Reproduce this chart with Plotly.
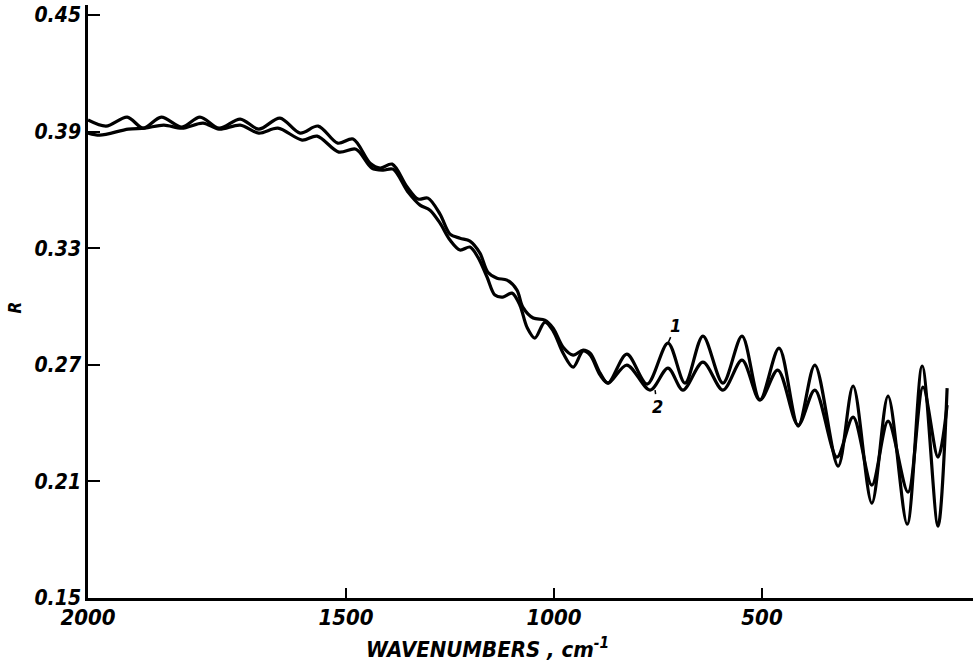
import plotly.graph_objects as go

# ---- data ----
wn_1 = [2000, 1965, 1924, 1893, 1858, 1818, 1783, 1746, 1705, 1669,
        1628, 1589, 1554, 1516, 1483, 1442, 1418, 1389, 1353, 1327,
        1303, 1274, 1250, 1226, 1202, 1178, 1159, 1137, 1113, 1089,
        1075, 1050, 1022, 1002, 978, 954, 930, 913, 889, 870,
        825, 776, 726, 685, 642, 594, 548, 505, 459, 413,
        373, 317, 281, 236, 197, 151, 115, 77, 55]
r_1 = [0.3960, 0.3929, 0.3975, 0.3918, 0.3975, 0.3924, 0.3975, 0.3918, 0.3965, 0.3913,
       0.3970, 0.3893, 0.3929, 0.3841, 0.3862, 0.3738, 0.3713, 0.3733, 0.3615, 0.3553,
       0.3558, 0.3476, 0.3373, 0.3352, 0.3337, 0.3275, 0.3177, 0.3146, 0.3136, 0.3085,
       0.2997, 0.2941, 0.2930, 0.2889, 0.2791, 0.2750, 0.2776, 0.2760, 0.2657, 0.2606,
       0.2755, 0.2601, 0.2812, 0.2606, 0.2848, 0.2606, 0.2848, 0.2519, 0.2786, 0.2385,
       0.2699, 0.2179, 0.2591, 0.1988, 0.2539, 0.1880, 0.2694, 0.1870, 0.2580]

wn_2 = [2000, 1977, 1922, 1890, 1853, 1818, 1777, 1746, 1705, 1669,
        1632, 1585, 1556, 1514, 1476, 1438, 1411, 1387, 1351, 1322,
        1298, 1274, 1250, 1226, 1202, 1183, 1161, 1142, 1123, 1101,
        1082, 1065, 1046, 1022, 1002, 978, 954, 930, 913, 889,
        870, 825, 769, 726, 690, 642, 594, 548, 505, 462,
        413, 373, 320, 281, 236, 197, 149, 113, 77, 55]
r_2 = [0.3893, 0.3882, 0.3913, 0.3918, 0.3934, 0.3918, 0.3944, 0.3913, 0.3934, 0.3893,
       0.3918, 0.3857, 0.3877, 0.3795, 0.3810, 0.3713, 0.3702, 0.3707, 0.3589, 0.3522,
       0.3496, 0.3429, 0.3342, 0.3291, 0.3306, 0.3254, 0.3152, 0.3059, 0.3049, 0.3069,
       0.3007, 0.2894, 0.2838, 0.2920, 0.2874, 0.2760, 0.2688, 0.2771, 0.2750, 0.2647,
       0.2606, 0.2699, 0.2570, 0.2683, 0.2570, 0.2714, 0.2570, 0.2724, 0.2519, 0.2673,
       0.2390, 0.2570, 0.2225, 0.2431, 0.2081, 0.2410, 0.2045, 0.2585, 0.2225, 0.2493]

x_ticks = [2000, 1500, 1000, 500]
y_ticks = [0.45, 0.39, 0.33, 0.27, 0.21, 0.15]
y_ticktext = ["0.45", "0.39", "0.33", "0.27", "0.21", "0.15"]
curve_labels = ["1", "2"]

# The original axis has a scale change at 1500 cm-1 (2000-1500 stretched)
BREAK = 1500
STRETCH = 258 / 208


def axis_pos(w):
    return w if w <= BREAK else BREAK + (w - BREAK) * STRETCH


FONT = "Liberation Sans Narrow, DejaVu Sans Condensed, Liberation Sans, sans-serif"

fig = go.Figure()
for wn, r in ((wn_1, r_1), (wn_2, r_2)):
    fig.add_trace(go.Scatter(
        x=[axis_pos(w) for w in wn], y=r, mode="lines",
        line=dict(color="black", width=3.2, shape="spline", smoothing=0.9),
        showlegend=False, hoverinfo="skip"))

fig.update_layout(
    width=973, height=668,
    margin=dict(l=88, r=0, t=5, b=70),
    paper_bgcolor="white", plot_bgcolor="white",
    xaxis=dict(
        range=[axis_pos(2000), -7.2],
        tickvals=[axis_pos(v) for v in x_ticks],
        ticktext=[str(v) for v in x_ticks],
        ticks="inside", ticklen=10, tickwidth=2, tickcolor="black",
        ticklabelstandoff=-2,
        showline=True, linecolor="black", linewidth=2.5,
        showgrid=False, zeroline=False,
        tickfont=dict(family=FONT, size=22, color="black", weight="bold", style="italic"),
    ),
    yaxis=dict(
        range=[0.15, 0.4552],
        tickvals=y_ticks, ticktext=y_ticktext,
        ticks="inside", ticklen=12, tickwidth=2, tickcolor="black",
        showline=True, linecolor="black", linewidth=2.5,
        showgrid=False, zeroline=False,
        tickfont=dict(family=FONT, size=21, color="black", weight="bold", style="italic"),
    ),
)

fig.add_annotation(
    text="WAVENUMBERS , cm<sup>-1</sup>", xref="paper", yref="paper",
    x=(487 - 88) / 885, y=(598 - 648) / 593, xanchor="center", yanchor="middle",
    showarrow=False,
    font=dict(family=FONT, size=22, color="black", weight="bold", style="italic"))
fig.add_annotation(
    text="R", xref="paper", yref="paper", x=(15 - 88) / 885, y=0.49,
    xanchor="center", yanchor="middle", showarrow=False, textangle=-90,
    font=dict(family=FONT, size=17, color="black", weight="bold", style="italic"))

# curve labels with leader lines
fig.add_annotation(
    text=curve_labels[0], x=axis_pos(726), y=0.2812, ax=8, ay=-18,
    showarrow=True, arrowhead=0, arrowwidth=1.5, arrowcolor="black",
    font=dict(family=FONT, size=18, color="black", weight="bold", style="italic"))
fig.add_annotation(
    text=curve_labels[1], x=axis_pos(757), y=0.2570, ax=2, ay=16,
    showarrow=True, arrowhead=0, arrowwidth=1.5, arrowcolor="black",
    font=dict(family=FONT, size=18, color="black", weight="bold", style="italic"))

fig.write_html("out.html")
